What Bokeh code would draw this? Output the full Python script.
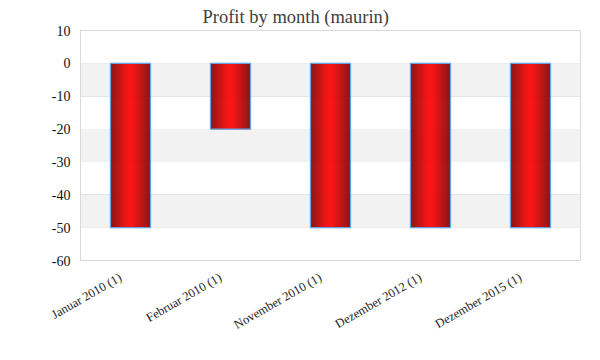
import numpy as np
from bokeh.plotting import figure
from bokeh.models import Range1d, FixedTicker, ColumnDataSource, BoxAnnotation, PrintfTickFormatter
from bokeh.embed import file_html
from bokeh.resources import INLINE

# data
months = ["Januar 2010 (1)", "Februar 2010 (1)", "November 2010 (1)", "Dezember 2012 (1)", "Dezember 2015 (1)"]
profit = [-50, -20, -50, -50, -50]
y_ticks = [-60, -50, -40, -30, -20, -10, 0, 10]

FONT = "Liberation Serif"
BAR_W = 0.4
N = 40
LABEL_SHIFT = -0.1

p = figure(width=600, height=360, output_backend="svg", toolbar_location=None,
           x_range=Range1d(-0.5, len(months) - 0.5), y_range=Range1d(-60, 10),
           min_border_left=80, min_border_right=20, min_border_top=30, min_border_bottom=100)

p.title.text = "Profit by month  (maurin)"
p.title.align = "left"
p.title.offset = 122
p.title.text_font = FONT
p.title.text_font_size = "18.5px"
p.title.text_font_style = "normal"
p.title.text_color = "#404040"
p.title.standoff = 8

# alternating background bands between ticks (gray on 0..-10, -20..-30, -40..-50)
for lo, hi in zip(y_ticks[1::2], y_ticks[2::2]):
    p.add_layout(BoxAnnotation(bottom=lo, top=hi, fill_color="#f2f2f2", fill_alpha=1.0,
                               line_color=None, level="underlay"))

# gradient bars built from thin slices
xs, tops, cols = [], [], []
for i, v in enumerate(profit):
    for k in range(N):
        off = (k + 0.5) / N - 0.5
        t = abs(off) / 0.5
        r = int(round(255 - (255 - 125) * t ** 1.2))
        xs.append(i + off * BAR_W)
        tops.append(v)
        cols.append("#%02x0000" % r)
src = ColumnDataSource(dict(x=xs, top=tops, color=cols))
p.vbar(x="x", top="top", bottom=0, width=BAR_W / N * 1.15, source=src,
       fill_color="color", line_color="color", line_width=0.3)

# bar outlines
p.vbar(x=list(range(len(months))), top=profit, bottom=0, width=BAR_W,
       fill_alpha=0, line_color="#62a3e6", line_width=1.2)

# axes
p.xaxis.ticker = FixedTicker(ticks=[i + LABEL_SHIFT for i in range(len(months))])
p.xaxis.major_label_overrides = {i + LABEL_SHIFT: m for i, m in enumerate(months)}
p.xaxis.major_label_orientation = np.pi / 6
p.yaxis.ticker = FixedTicker(ticks=y_ticks)
p.yaxis.formatter = PrintfTickFormatter(format="%d")

for ax in (p.xaxis[0], p.yaxis[0]):
    ax.axis_line_color = "#d9d9d9"
    ax.major_tick_line_color = None
    ax.minor_tick_line_color = None
    ax.major_label_text_font = FONT
    ax.major_label_text_color = "#222222"

p.yaxis.major_label_text_font_size = "14px"
p.yaxis.major_label_standoff = 4
p.yaxis.major_label_text_color = "#111111"
p.xaxis.major_label_text_font_size = "12.5px"
p.xaxis.major_label_standoff = 10

p.xgrid.grid_line_color = None
p.ygrid.grid_line_color = "#e0e0e0"

p.outline_line_color = "#d9d9d9"
p.outline_line_width = 1

open("out.html", "w").write(file_html(p, INLINE))
